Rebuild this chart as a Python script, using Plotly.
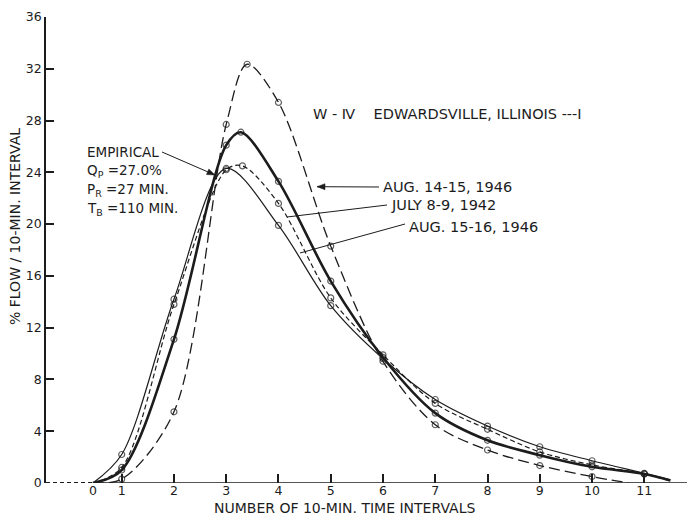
import math
import plotly.graph_objects as go

# ---------------- data ----------------
x_tick_values = [1, 2, 3, 4, 5, 6, 7, 8, 9, 10, 11]
x_tick_labels = ["1", "2", "3", "4", "5", "6", "7", "8", "9", "10", "11"]
y_tick_values = [0, 4, 8, 12, 16, 20, 24, 28, 32, 36]
start_x = 0.45  # position of the "0" label on the time axis

emp_x = [0.45, 1, 2, 3, 3.28, 4, 5, 6, 7, 8, 9, 10, 11, 11.5]
emp_y = [0, 1.0, 11.1, 26.1, 27.1, 23.3, 15.6, 9.7, 5.4, 3.3, 2.15, 1.25, 0.7, 0.2]

aug14_x = [0.45, 1, 2, 3, 3.4, 4, 5, 6, 7, 8, 9, 10, 10.7]
aug14_y = [0, 0.3, 5.5, 27.7, 32.35, 29.4, 18.3, 9.4, 4.5, 2.55, 1.35, 0.5, 0]

july_x = [0.45, 1, 2, 3, 3.31, 4, 5, 6, 7, 8, 9, 10, 11, 11.5]
july_y = [0, 1.2, 13.8, 24.2, 24.5, 21.6, 14.3, 9.9, 6.15, 4.15, 2.4, 1.4, 0.7, 0.15]

aug15_x = [0.45, 1, 2, 3, 4, 5, 6, 7, 8, 9, 10, 11, 11.5]
aug15_y = [0, 2.2, 14.2, 24.3, 19.9, 13.7, 9.6, 6.45, 4.4, 2.8, 1.72, 0.75, 0.25]

# ---------------- layout helpers ----------------
W, H = 687, 517
L, R, T, B = 46, 0, 17, 34
X1_PX, X_UNIT = 121.7, 52.26


def px2x(px):
    return (px - X1_PX) / X_UNIT + 1


def ppx(px):  # pixel -> paper x
    return (px - L) / (W - L - R)


def ppy(py):  # pixel -> paper y
    return (H - B - py) / (H - T - B)


INK = "#1c1c1c"
FONT = "DejaVu Sans"


def sizes(n, s=6):
    return [0] + [s] * (n - 2) + [0]


fig = go.Figure()


def add_curve(xs, ys, width, dash, name):
    fig.add_trace(go.Scatter(
        x=xs, y=ys, mode="lines+markers", name=name,
        line=dict(color=INK, width=width, dash=dash, shape="spline", smoothing=0.9),
        marker=dict(symbol="circle-open", size=sizes(len(xs)), color=INK,
                    line=dict(width=1.2, color=INK)),
        showlegend=False, cliponaxis=True,
    ))


add_curve(aug15_x, aug15_y, 1.2, "solid", "AUG. 15-16, 1946")
add_curve(july_x, july_y, 1.2, "5px,3px", "JULY 8-9, 1942")
add_curve(aug14_x, aug14_y, 1.3, "11px,5px", "AUG. 14-15, 1946")
add_curve(emp_x, emp_y, 2.6, "solid", "EMPIRICAL")

x_lo, x_hi = px2x(L), px2x(W - R)

shapes = []
# x axis line: dashed before time zero, solid afterwards
shapes.append(dict(type="line", x0=x_lo, x1=start_x, y0=0, y1=0, xref="x", yref="y",
                   line=dict(color=INK, width=2.2, dash="4px,3px")))
shapes.append(dict(type="line", x0=start_x, x1=x_hi, y0=0, y1=0, xref="x", yref="y",
                   line=dict(color=INK, width=1.6)))


def leader(px0, py0, px1, py1, head=False):
    shapes.append(dict(type="line", xref="paper", yref="paper",
                       x0=ppx(px0), y0=ppy(py0), x1=ppx(px1), y1=ppy(py1),
                       line=dict(color=INK, width=1)))
    if head:
        ang = math.atan2(py1 - py0, px1 - px0)
        ln, wd = 8, 3
        bx, by = px1 - ln * math.cos(ang), py1 - ln * math.sin(ang)
        nx, ny = -math.sin(ang) * wd, math.cos(ang) * wd
        pts = [(px1, py1), (bx + nx, by + ny), (bx - nx, by - ny)]
        path = "M " + " L ".join(f"{ppx(a):.5f},{ppy(b):.5f}" for a, b in pts) + " Z"
        shapes.append(dict(type="path", xref="paper", yref="paper", path=path,
                           fillcolor=INK, line=dict(color=INK, width=0.5)))


ann = []


def text(px, py, s, size=13, anchor="left", angle=0):
    ann.append(dict(x=ppx(px), y=ppy(py), xref="paper", yref="paper", text=s,
                    showarrow=False, xanchor=anchor, yanchor="middle", textangle=angle,
                    font=dict(family=FONT, size=size, color=INK)))


text(85, 152, "EMPIRICAL", size=13.5)
leader(162, 152, 215, 175, head=True)
text(85, 171, "Q<sub>P</sub> =27.0%", size=13.5)
text(85, 190, "P<sub>R</sub> =27 MIN.", size=13.5)
text(85, 209.5, "T<sub>B</sub> =110 MIN.", size=13.5)

text(311, 114, "W - Ⅳ    EDWARDSVILLE, ILLINOIS ---I", size=14.5)

text(381, 187, "AUG. 14-15, 1946", size=14.5)
leader(379, 187, 317, 186.7, head=True)
text(389, 205, "JULY 8-9, 1942", size=14.5)
leader(387, 205, 287, 217)
text(407, 226.5, "AUG. 15-16, 1946", size=14.5)
leader(405, 224, 300, 253)

# the "0" label of the time axis (no tick mark there)
text(93, 491, "0", size=12.5, anchor="center")

# axis titles
text(344, 507.5, "NUMBER OF 10-MIN. TIME INTERVALS", size=14, anchor="center")
text(15, 227, "% FLOW / 10-MIN. INTERVAL", size=14, anchor="center", angle=-90)

fig.update_layout(
    width=W, height=H,
    margin=dict(l=L, r=R, t=T, b=B, pad=0),
    paper_bgcolor="white", plot_bgcolor="white",
    annotations=ann, shapes=shapes,
    xaxis=dict(range=[x_lo, x_hi], showgrid=False, zeroline=False, showline=False,
               tickvals=x_tick_values, ticktext=x_tick_labels, ticks="inside",
               ticklen=9, tickwidth=1.5, tickcolor=INK, ticklabelstandoff=-2,
               tickfont=dict(family=FONT, size=12.5, color=INK)),
    yaxis=dict(range=[0, 36], showgrid=False, zeroline=False, showline=True,
               linecolor=INK, linewidth=1.6, tickvals=y_tick_values, ticks="inside",
               ticklen=8, tickwidth=1.5, tickcolor=INK,
               tickfont=dict(family=FONT, size=12.5, color=INK)),
)

fig.write_html("out.html")
